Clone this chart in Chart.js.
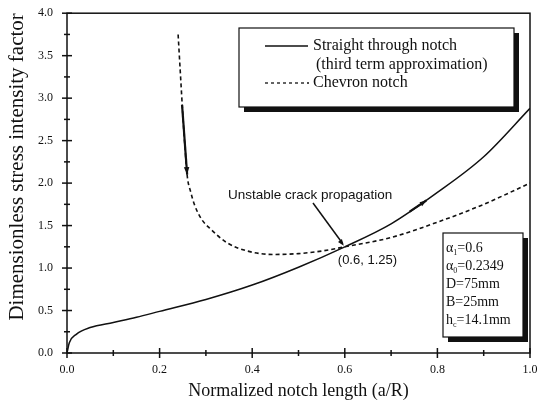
<!DOCTYPE html>
<html>
<head>
<meta charset="utf-8">
<script src="https://cdn.jsdelivr.net/npm/chart.js@4/dist/chart.umd.min.js"></script>
<style>
  html, body { margin: 0; padding: 0; background: #fff; }
  #wrap { width: 545px; height: 410px; }
</style>
</head>
<body>
<div id="wrap"><canvas id="kChart" width="545" height="410"></canvas></div>
<script>
// Data
const straightX = [0, 0.005, 0.02, 0.05, 0.1, 0.15, 0.2, 0.3, 0.4, 0.5, 0.6, 0.7, 0.8, 0.9, 1.0];
const straightY = [0, 0.12, 0.22, 0.30, 0.36, 0.42, 0.49, 0.63, 0.80, 1.01, 1.25, 1.52, 1.89, 2.31, 2.88];

const chevronX = [0.240, 0.245, 0.250, 0.255, 0.260, 0.267, 0.275, 0.290, 0.310, 0.345, 0.390, 0.445, 0.500, 0.550, 0.600, 0.700, 0.800, 0.900, 1.000];
const chevronY = [3.75, 3.28, 2.82, 2.40, 2.07, 1.90, 1.75, 1.58, 1.46, 1.30, 1.20, 1.16, 1.17, 1.20, 1.25, 1.36, 1.54, 1.75, 2.00];

const legendLabels = ["Straight through notch", "(third term approximation)", "Chevron notch"];
const paramLabels = [["\u03b1", "1", "=0.6"], ["\u03b1", "0", "=0.2349"], ["D=75mm", "", ""], ["B=25mm", "", ""], ["h", "c", "=14.1mm"]];

// arrows along the curves and the callout, in data units
const chevronArrow = [[0.2485, 2.92], [0.2595, 2.10]];
const straightArrow = [[0.740, 1.665], [0.776, 1.795]];
const crossPoint = [0.6, 1.25];
const calloutText = "Unstable crack propagation";
const pointText = "(0.6, 1.25)";

const serif = "'Liberation Serif', 'Times New Roman', serif";
const sans = "'Liberation Sans', Arial, sans-serif";

function toPoints(xs, ys) {
    return xs.map((x, i) => ({ x: x, y: ys[i] }));
}

function arrowHead(ctx, x1, y1, x2, y2, size) {
    const a = Math.atan2(y2 - y1, x2 - x1);
    ctx.beginPath();
    ctx.moveTo(x2, y2);
    ctx.lineTo(x2 - size * Math.cos(a - 0.35), y2 - size * Math.sin(a - 0.35));
    ctx.lineTo(x2 - size * Math.cos(a + 0.35), y2 - size * Math.sin(a + 0.35));
    ctx.closePath();
    ctx.fill();
}

const decorations = {
    id: 'decorations',
    afterDraw(chart) {
        const ctx = chart.ctx;
        const xs = chart.scales.x, ys = chart.scales.y;
        const area = chart.chartArea;
        ctx.save();
        ctx.strokeStyle = '#111';
        ctx.fillStyle = '#111';

        // frame
        ctx.lineWidth = 1.5;
        ctx.strokeRect(area.left, area.top, area.right - area.left, area.bottom - area.top);

        // ticks crossing the axes
        ctx.lineWidth = 1.5;
        xs.ticks.forEach(t => {
            const p = xs.getPixelForValue(t.value);
            const big = Math.abs(t.value * 5 - Math.round(t.value * 5)) < 1e-6;
            const len = big ? 5 : 3;
            ctx.beginPath();
            ctx.moveTo(p, area.bottom - len);
            ctx.lineTo(p, area.bottom + len);
            ctx.stroke();
        });
        ys.ticks.forEach(t => {
            const p = ys.getPixelForValue(t.value);
            const big = Math.abs(t.value * 2 - Math.round(t.value * 2)) < 1e-6;
            const len = big ? 5 : 3;
            ctx.beginPath();
            ctx.moveTo(area.left - len, p);
            ctx.lineTo(area.left + len, p);
            ctx.stroke();
        });

        // arrow on chevron curve
        let a0 = [xs.getPixelForValue(chevronArrow[0][0]), ys.getPixelForValue(chevronArrow[0][1])];
        let a1 = [xs.getPixelForValue(chevronArrow[1][0]), ys.getPixelForValue(chevronArrow[1][1])];
        ctx.lineWidth = 2.2;
        ctx.beginPath(); ctx.moveTo(a0[0], a0[1]); ctx.lineTo(a1[0], a1[1]); ctx.stroke();
        arrowHead(ctx, a0[0], a0[1], a1[0], a1[1], 8);

        // arrow on straight curve
        a0 = [xs.getPixelForValue(straightArrow[0][0]), ys.getPixelForValue(straightArrow[0][1])];
        a1 = [xs.getPixelForValue(straightArrow[1][0]), ys.getPixelForValue(straightArrow[1][1])];
        ctx.lineWidth = 2.2;
        ctx.beginPath(); ctx.moveTo(a0[0], a0[1]); ctx.lineTo(a1[0], a1[1]); ctx.stroke();
        arrowHead(ctx, a0[0], a0[1], a1[0], a1[1], 7);

        // callout
        const cx = xs.getPixelForValue(crossPoint[0]);
        const cy = ys.getPixelForValue(crossPoint[1]);
        ctx.font = '13.5px ' + sans;
        ctx.textBaseline = 'middle';
        ctx.textAlign = 'left';
        ctx.fillText(calloutText, 228, 195);
        ctx.lineWidth = 1.5;
        ctx.beginPath(); ctx.moveTo(313, 203); ctx.lineTo(cx - 2, cy - 3); ctx.stroke();
        arrowHead(ctx, 313, 203, cx - 1, cy - 1, 7);
        ctx.font = '13px ' + sans;
        ctx.fillText(pointText, cx - 7, cy + 14);

        // legend box with shadow
        const lx = 239, ly = 28, lw = 275, lh = 79;
        ctx.fillStyle = '#111';
        ctx.fillRect(lx + 5, ly + 5, lw, lh);
        ctx.fillStyle = '#fff';
        ctx.fillRect(lx, ly, lw, lh);
        ctx.lineWidth = 1.2;
        ctx.strokeRect(lx, ly, lw, lh);
        ctx.fillStyle = '#111';
        ctx.lineWidth = 1.3;
        ctx.beginPath(); ctx.moveTo(265, 46); ctx.lineTo(308, 46); ctx.stroke();
        ctx.setLineDash([3, 3]);
        ctx.beginPath(); ctx.moveTo(265, 83); ctx.lineTo(309, 83); ctx.stroke();
        ctx.setLineDash([]);
        ctx.font = '16px ' + serif;
        ctx.fillText(legendLabels[0], 313, 46);
        ctx.fillText(legendLabels[1], 316, 65);
        ctx.fillText(legendLabels[2], 313, 83);

        // parameter box with shadow
        const px = 443, py = 233, pw = 80, ph = 104;
        ctx.fillRect(px + 5, py + 5, pw, ph);
        ctx.fillStyle = '#fff';
        ctx.fillRect(px, py, pw, ph);
        ctx.lineWidth = 1.2;
        ctx.strokeRect(px, py, pw, ph);
        ctx.fillStyle = '#111';
        paramLabels.forEach((p, i) => {
            const yy = 248 + i * 18;
            let xx = 446;
            ctx.font = '14px ' + serif;
            ctx.fillText(p[0], xx, yy);
            xx += ctx.measureText(p[0]).width;
            if (p[1]) {
                ctx.font = '8px ' + serif;
                ctx.fillText(p[1], xx, yy + 5);
                xx += ctx.measureText(p[1]).width;
                ctx.font = '14px ' + serif;
                ctx.fillText(p[2], xx, yy);
            }
        });
        ctx.restore();
    }
};

new Chart(document.getElementById('kChart').getContext('2d'), {
    type: 'line',
    data: {
        datasets: [{
            label: 'Straight through notch',
            data: toPoints(straightX, straightY),
            borderColor: '#111',
            borderWidth: 1.5,
            pointRadius: 0,
            cubicInterpolationMode: 'monotone',
            fill: false
        }, {
            label: 'Chevron notch',
            data: toPoints(chevronX, chevronY),
            borderColor: '#111',
            borderWidth: 1.6,
            borderDash: [4, 3],
            pointRadius: 0,
            cubicInterpolationMode: 'monotone',
            fill: false
        }]
    },
    options: {
        responsive: false,
        animation: false,
        layout: { padding: { top: 0, right: 15, left: 0, bottom: 0 } },
        plugins: {
            legend: { display: false },
            tooltip: { enabled: false }
        },
        scales: {
            x: {
                type: 'linear',
                min: 0,
                max: 1,
                grid: { display: false },
                border: { display: false },
                ticks: {
                    stepSize: 0.1,
                    autoSkip: false,
                    maxRotation: 0,
                    padding: 2,
                    color: '#111',
                    font: { family: serif, size: 12 },
                    callback: v => Math.abs(v * 5 - Math.round(v * 5)) < 1e-6 ? v.toFixed(1) : ''
                },
                title: {
                    display: true,
                    text: 'Normalized notch length (a/R)',
                    color: '#111',
                    font: { family: serif, size: 18 },
                    padding: { top: 4, bottom: 8 }
                },
                afterFit: s => { s.height = 57; }
            },
            y: {
                type: 'linear',
                min: 0,
                max: 4,
                grid: { display: false },
                border: { display: false },
                ticks: {
                    stepSize: 0.25,
                    autoSkip: false,
                    padding: 6,
                    color: '#111',
                    font: { family: serif, size: 12 },
                    callback: v => Math.abs(v * 2 - Math.round(v * 2)) < 1e-6 ? v.toFixed(1) : ''
                },
                title: {
                    display: true,
                    align: 'end',
                    text: 'Dimensionless stress intensity factor',
                    color: '#111',
                    font: { family: serif, size: 21 },
                    padding: { top: 5, bottom: 0 }
                },
                afterFit: s => { s.width = 67; }
            }
        }
    },
    plugins: [decorations]
});
</script>
</body>
</html>
